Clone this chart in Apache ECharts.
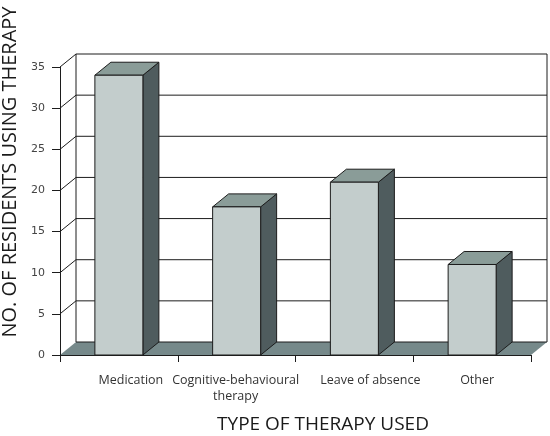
<!DOCTYPE html>
<html>
<head>
<meta charset="utf-8">
<style>
  html, body { margin: 0; padding: 0; background: #fff; }
  #chart { width: 550px; height: 436px; }
</style>
<script src="https://cdn.jsdelivr.net/npm/echarts@6/dist/echarts.min.js"></script>
</head>
<body>
<div id="chart"></div>
<script>
const categories = ["Medication", "Cognitive-behavioural\ntherapy", "Leave of absence", "Other"];
const residents = [34, 18, 21, 11];
const yTicks = [5, 10, 15, 20, 25, 30, 35];

// how far the back wall sits from the front plane
const depthX = 16;
const depthY = -13;
const barWidth = 48;
const lineColor = "#1c1c1c";
// labels are not quite centred under the bars in the original
const labelShift = [12, -1, 16, 5];

const myChart = echarts.init(document.getElementById("chart"), null, { renderer: "canvas" });

function line(x1, y1, x2, y2) {
  return {
    type: "line",
    shape: { x1, y1, x2, y2 },
    style: { stroke: lineColor, lineWidth: 1 },
  };
}

function poly(points, fill) {
  return {
    type: "polygon",
    shape: { points },
    style: { fill, stroke: lineColor, lineWidth: 1, lineJoin: "round" },
  };
}

// floor and the two back edges
function renderWalls(params, api) {
  const cs = params.coordSys;
  const left = cs.x;
  const right = cs.x + cs.width;
  const top = cs.y;
  const bottom = cs.y + cs.height;
  return {
    type: "group",
    children: [
      {
        type: "polygon",
        shape: {
          points: [
            [left, bottom],
            [left + depthX, bottom + depthY],
            [right + depthX, bottom + depthY],
            [right, bottom],
          ],
        },
        style: { fill: "#76898a" },
      },
      line(left + depthX, bottom + depthY, right + depthX, bottom + depthY),
      line(left + depthX, top + depthY, left + depthX, bottom + depthY),
      line(right + depthX, top + depthY, right + depthX, bottom + depthY),
    ],
  };
}

// one gridline bent round the left wall
function renderGridLine(params, api) {
  const cs = params.coordSys;
  const y = api.coord([0, api.value(1)])[1];
  const left = cs.x;
  const right = cs.x + cs.width;
  return {
    type: "group",
    children: [
      line(left, y, left + depthX, y + depthY),
      line(left + depthX, y + depthY, right + depthX, y + depthY),
    ],
  };
}

function renderBar(params, api) {
  const p = api.coord([api.value(0), api.value(1)]);
  const base = api.coord([api.value(0), 0]);
  const x1 = p[0] - barWidth / 2;
  const x2 = p[0] + barWidth / 2;
  const y1 = p[1];
  const y2 = base[1];
  return {
    type: "group",
    children: [
      poly(
        [
          [x2, y1],
          [x2 + depthX, y1 + depthY],
          [x2 + depthX, y2 + depthY],
          [x2, y2],
        ],
        "#4f5c5e"
      ),
      poly(
        [
          [x1, y1],
          [x1 + depthX, y1 + depthY],
          [x2 + depthX, y1 + depthY],
          [x2, y1],
        ],
        "#8a9c98"
      ),
      poly(
        [
          [x1, y1],
          [x2, y1],
          [x2, y2],
          [x1, y2],
        ],
        "#c3cdcc"
      ),
    ],
  };
}

myChart.setOption({
  animation: false,
  backgroundColor: "#fff",
  grid: { left: 60, right: 19, top: 67, bottom: 81, outerBoundsMode: "none" },
  xAxis: {
    type: "category",
    data: categories.map((value, i) => ({
      value,
      textStyle: { padding: labelShift[i] > 0 ? [0, 0, 0, labelShift[i] * 2] : [0, -labelShift[i] * 2, 0, 0] },
    })),
    name: "TYPE OF THERAPY USED",
    nameLocation: "middle",
    nameGap: 60,
    nameTextStyle: { fontFamily: "Open Sans", fontSize: 19, color: "#1a1a1a", padding: [0, 0, 0, 55] },
    axisLine: { lineStyle: { color: lineColor, width: 1 } },
    axisTick: { show: true, alignWithLabel: false, length: 7, lineStyle: { color: lineColor } },
    axisLabel: {
      interval: 0,
      margin: 17,
      fontFamily: "Open Sans",
      fontSize: 12.5,
      lineHeight: 16,
      color: "#333",
    },
    z: 5,
  },
  yAxis: {
    type: "value",
    min: 0,
    max: 35,
    interval: 5,
    name: "NO. OF RESIDENTS USING THERAPY",
    nameLocation: "middle",
    nameGap: 35,
    nameTextStyle: { fontFamily: "Open Sans", fontSize: 20, color: "#1a1a1a", padding: [0, 0, 0, 78] },
    axisLine: { show: true, lineStyle: { color: lineColor, width: 1 } },
    axisTick: { show: true, length: 8, lineStyle: { color: lineColor } },
    axisLabel: { margin: 15, fontFamily: "DejaVu Sans", fontSize: 11, color: "#444" },
    splitLine: { show: false },
    z: 5,
  },
  series: [
    {
      type: "custom",
      renderItem: renderWalls,
      data: [[0, 0]],
      encode: { x: 0, y: 1 },
      silent: true,
      z: 1,
    },
    {
      type: "custom",
      renderItem: renderGridLine,
      data: yTicks.map((t) => [0, t]),
      encode: { x: 0, y: 1 },
      silent: true,
      z: 2,
    },
    {
      type: "custom",
      renderItem: renderBar,
      data: residents.map((v, i) => [i, v]),
      encode: { x: 0, y: 1 },
      z: 3,
    },
  ],
});
</script>
</body>
</html>
